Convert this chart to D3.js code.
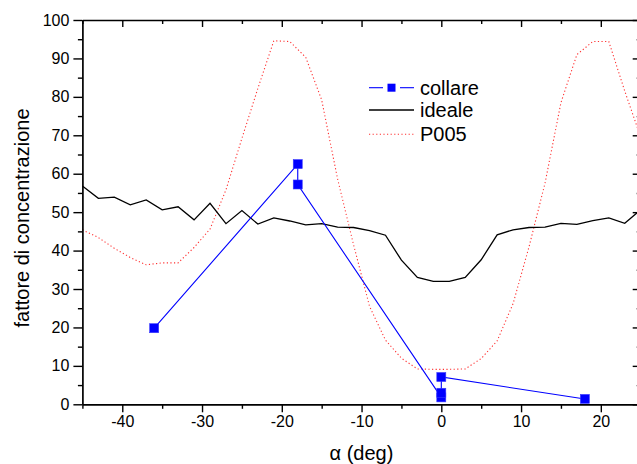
<!DOCTYPE html>
<html><head><meta charset="utf-8">
<script src="https://cdn.jsdelivr.net/npm/d3@7"></script>
<style>
html,body{margin:0;padding:0;background:#fff;}
svg{display:block;font-family:Arial,"Liberation Sans",sans-serif;}
</style></head>
<body>
<svg id="chart" width="637" height="464"></svg>
<script>
// ---- data ----
const idealeX = [-45,-43,-41,-39,-37,-35,-33,-31,-29,-27,-25,-23,-21,-19,-17,-15,-13,-11,-9,-7,-5,-3,-1,1,3,5,7,9,11,13,15,17,19,21,23,25];
const idealeY = [56.8,53.6,53.9,51.9,53.2,50.6,51.4,48.0,52.3,47.0,50.4,46.9,48.5,47.7,46.7,47.0,46.1,46.0,45.2,44.0,37.5,33.0,32.0,32.0,33.0,37.6,44.1,45.4,46.0,46.1,47.1,46.8,47.8,48.5,47.1,50.6];
const p005X = [-45,-43,-41,-39,-37,-35,-33,-31,-29,-27,-25,-23,-21,-19,-17,-15,-13,-11,-9,-7,-5,-3,-1,1,3,5,7,9,11,13,15,17,19,21,23,25];
const p005Y = [45.4,43.4,40.6,38.2,36.3,36.8,36.8,40.8,45.6,55.8,69.2,82.2,94.6,94.4,90.3,79.2,58.6,41.5,25.5,16.7,12.0,9.2,9.1,9.1,9.2,11.9,16.5,26.2,41.0,57.5,78.5,91.0,94.4,94.4,81.5,69.5];
const collareX = [-36,-18,-18,0,0,0,18];
const collareY = [19.8,62.5,57.2,1.8,3.0,7.1,1.4];
const xTicks = [-40,-30,-20,-10,0,10,20];
const xMinor = [-45,-35,-25,-15,-5,5,15,25];
const yTicks = [0,10,20,30,40,50,60,70,80,90,100];
const yMinor = [5,15,25,35,45,55,65,75,85,95];
const legendLabels = ["collare","ideale","P005"];
const xTitle = "\u03b1 (deg)";
const yTitle = "fattore di concentrazione";

// ---- layout ----
const svg = d3.select("#chart");
const L = 82.4, R = 640.7, T = 20, B = 404.3;
const x = d3.scaleLinear().domain([-45,25]).range([L,R]);
const y = d3.scaleLinear().domain([0,100]).range([B,T]);

svg.append("rect").attr("width",637).attr("height",464).attr("fill","#fff");

const zip = (a,b)=>a.map((v,i)=>[v,b[i]]);
const line = d3.line().x(d=>x(d[0])).y(d=>y(d[1]));

// P005 dotted
svg.append("path").datum(zip(p005X,p005Y)).attr("d",line)
  .attr("fill","none").attr("stroke","#ff3030").attr("stroke-width",1.1)
  .attr("stroke-dasharray","1.2,2.4");
// ideale
svg.append("path").datum(zip(idealeX,idealeY)).attr("d",line)
  .attr("fill","none").attr("stroke","#000").attr("stroke-width",1.3)
  .attr("stroke-linejoin","miter");
// collare
const cdata = zip(collareX,collareY);
svg.append("path").datum(cdata).attr("d",line)
  .attr("fill","none").attr("stroke","#0000ff").attr("stroke-width",1.1);
svg.selectAll("rect.mk").data(cdata).enter().append("rect").attr("class","mk")
  .attr("x",d=>x(d[0])-4.5).attr("y",d=>y(d[1])-4.5).attr("width",9).attr("height",9)
  .attr("fill","#0000ff").attr("stroke","#3a3aff").attr("stroke-width",0.6);

// ---- axes ----
const fmt = d=>d3.format("d")(d).replace("\u2212","-");
function styleAxis(g){
  g.select(".domain").attr("stroke","#000").attr("stroke-width",1.7);
  g.selectAll(".tick line").attr("stroke","#000").attr("stroke-width",1.4);
  g.selectAll(".tick text").attr("fill","#000").attr("font-size","16px")
    .attr("font-family","Arial, 'Liberation Sans', sans-serif");
}
// bottom
const gb = svg.append("g").attr("transform",`translate(0,${B})`)
  .call(d3.axisBottom(x).tickValues(xTicks).tickSize(8).tickPadding(8).tickFormat(fmt).tickSizeOuter(0));
styleAxis(gb);
gb.selectAll(".tick text").attr("dy","0.71em").attr("y",11);
svg.append("g").attr("transform",`translate(0,${B})`)
  .call(d3.axisBottom(x).tickValues(xMinor).tickSize(4.5).tickFormat("").tickSizeOuter(0))
  .call(g=>{g.select(".domain").remove();g.selectAll("line").attr("stroke","#000").attr("stroke-width",1.4);});
// top
const gt = svg.append("g").attr("transform",`translate(0,${T})`)
  .call(d3.axisBottom(x).tickValues(xTicks).tickSize(7).tickFormat("").tickSizeOuter(0));
styleAxis(gt);
svg.append("g").attr("transform",`translate(0,${T})`)
  .call(d3.axisBottom(x).tickValues(xMinor).tickSize(4).tickFormat("").tickSizeOuter(0))
  .call(g=>{g.select(".domain").remove();g.selectAll("line").attr("stroke","#000").attr("stroke-width",1.4);});
// left
const gl = svg.append("g").attr("transform",`translate(${L},0)`)
  .call(d3.axisLeft(y).tickValues(yTicks).tickSize(9).tickPadding(4).tickFormat(fmt).tickSizeOuter(0));
styleAxis(gl);
svg.append("g").attr("transform",`translate(${L},0)`)
  .call(d3.axisLeft(y).tickValues(yMinor).tickSize(4.5).tickFormat("").tickSizeOuter(0))
  .call(g=>{g.select(".domain").remove();g.selectAll("line").attr("stroke","#000").attr("stroke-width",1.4);});
// right
const gr = svg.append("g").attr("transform",`translate(${R},0)`)
  .call(d3.axisLeft(y).tickValues(yTicks).tickSize(8).tickFormat("").tickSizeOuter(0));
styleAxis(gr);
svg.append("g").attr("transform",`translate(${R},0)`)
  .call(d3.axisLeft(y).tickValues(yMinor).tickSize(4).tickFormat("").tickSizeOuter(0))
  .call(g=>{g.select(".domain").remove();g.selectAll("line").attr("stroke","#000").attr("stroke-width",1.4);});

// titles
svg.append("text").attr("x",361.5).attr("y",460).attr("text-anchor","middle")
  .attr("font-size","20px").attr("fill","#000").text(xTitle);
svg.append("text").attr("transform","translate(28.5,218) rotate(-90)").attr("text-anchor","middle")
  .attr("font-size","20px").attr("fill","#000").text(yTitle);

// ---- legend ----
const lg = svg.append("g");
const ly = [87.7,110,134.3];
lg.append("line").attr("x1",369).attr("x2",383).attr("y1",ly[0]).attr("y2",ly[0]).attr("stroke","#0000ff").attr("stroke-width",1.1);
lg.append("line").attr("x1",400).attr("x2",414).attr("y1",ly[0]).attr("y2",ly[0]).attr("stroke","#0000ff").attr("stroke-width",1.1);
lg.append("rect").attr("x",387.5).attr("y",ly[0]-4).attr("width",8).attr("height",8).attr("fill","#0000ff");
lg.append("line").attr("x1",369).attr("x2",414).attr("y1",ly[1]).attr("y2",ly[1]).attr("stroke","#000").attr("stroke-width",1.3);
lg.append("line").attr("x1",369).attr("x2",414).attr("y1",ly[2]).attr("y2",ly[2]).attr("stroke","#ff3030").attr("stroke-width",1.1).attr("stroke-dasharray","1.2,2.4");
legendLabels.forEach((t,i)=>{
  lg.append("text").attr("x",420).attr("y",ly[i]+7).attr("font-size","20px").attr("fill","#000").text(t);
});
</script>
</body></html>
